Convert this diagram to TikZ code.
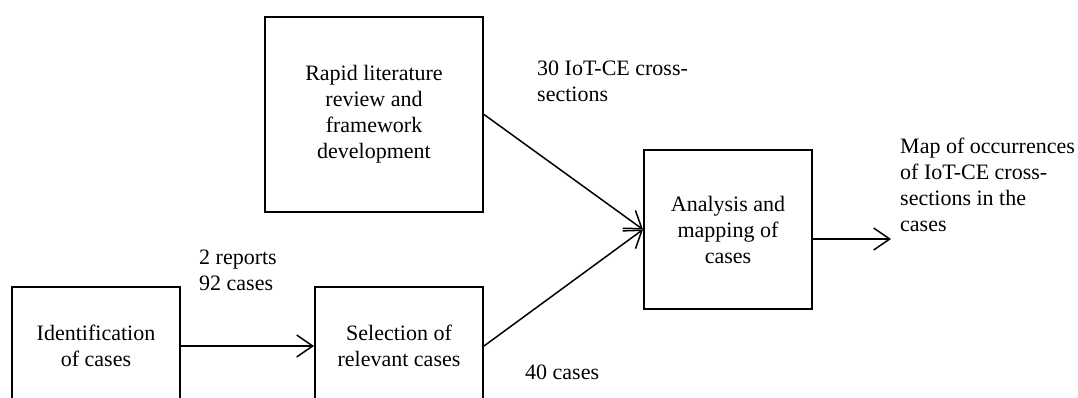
\documentclass[tikz,border=0pt]{standalone}
\usepackage{fontspec}
\setmainfont{Liberation Serif}
\usetikzlibrary{arrows.meta}
\tikzset{
  box/.style={draw, line width=2pt, align=center, font=\fontsize{22}{26}\selectfont, inner sep=0pt},
  lbl/.style={align=left, font=\fontsize{22}{26}\selectfont, inner sep=0pt},
  arr/.style={line width=1.5pt, -{Straight Barb[length=16pt,width=22pt,line width=1.5pt]}},
}
\begin{document}
\begin{tikzpicture}[x=1pt,y=-1pt]
\useasboundingbox (0,0) rectangle (1078,397);
\node[box, minimum width=168pt, minimum height=118pt] (ident) at (96,346) {Identification\\of cases};
\node[box, minimum width=168pt, minimum height=118pt] (select) at (399,346) {Selection of\\relevant cases};
\node[box, minimum width=218pt, minimum height=195pt] (rapid) at (374,114.5) {Rapid literature\\review and\\framework\\development};
\node[box, minimum width=168pt, minimum height=159pt] (anal) at (728,229.5) {Analysis and\\mapping of\\cases};
\node[lbl, anchor=base west] (l1) at (199,290) {2 reports\\92 cases};
\node[lbl, anchor=base west] (l2) at (537,101) {30 IoT-CE cross-\\sections};
\node[lbl, anchor=base west] (l3) at (525,379) {40 cases};
\node[lbl, anchor=base west] (l4) at (900,231) {Map of occurrences\\of IoT-CE cross-\\sections in the\\cases};
\coordinate (outend) at (891,239);
\draw[arr] (ident.east) -- (select.west);
\draw[arr] (rapid.east) -- (anal.west);
\draw[arr] (select.east) -- (anal.west);
\draw[arr] (anal.east |- outend) -- (outend);
\end{tikzpicture}
\end{document}
